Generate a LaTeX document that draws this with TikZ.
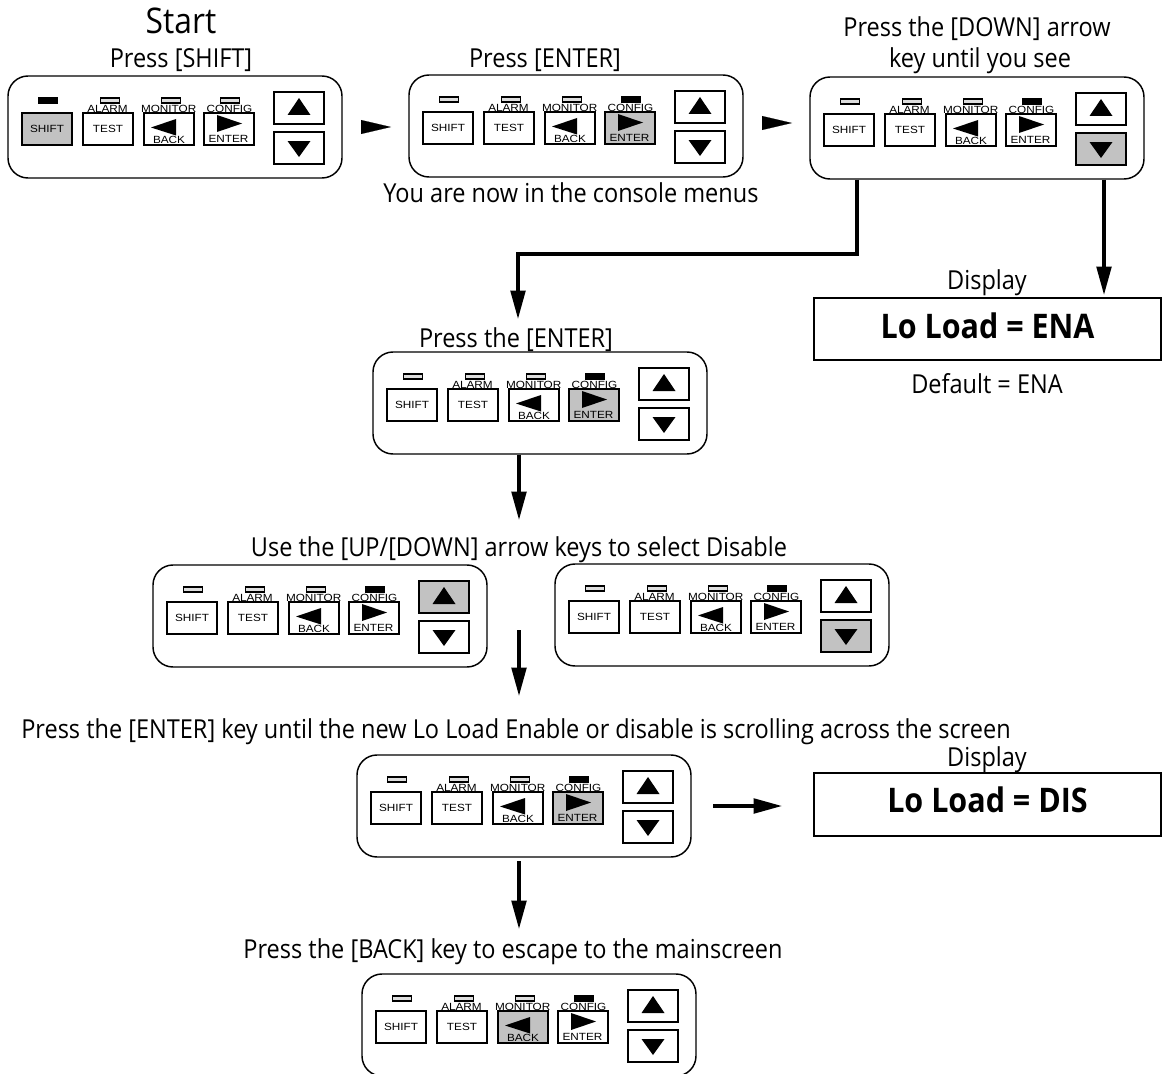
\documentclass[tikz,border=0pt]{standalone}
\usepackage{fontspec}
\setmainfont{Open Sans}[FakeStretch=0.9]
\newfontfamily\keyfont{Liberation Sans}[FakeStretch=1.13]
\usetikzlibrary{arrows.meta}
\definecolor{keygray}{HTML}{C2C2C2}
\definecolor{ledoff}{HTML}{DEDEDE}
\tikzset{
  x=0.75pt,y=-0.75pt,
  panelbox/.style={draw,line width=1.1pt,rounded corners=15pt,minimum width=250.5pt,minimum height=76.5pt,inner sep=0pt},
  keybox/.style={draw,line width=1.3pt,minimum width=37.5pt,minimum height=24pt,inner sep=0pt,font=\keyfont\fontsize{7.8}{8}\selectfont},
  arrowbox/.style={draw,line width=1.3pt,minimum width=37.5pt,minimum height=24pt,inner sep=0pt},
  ledbox/.style={draw,line width=1.1pt,minimum width=14pt,minimum height=4pt,inner sep=0pt},
  keytext/.style={inner sep=0pt,font=\keyfont\fontsize{7.8}{8}\selectfont},
  caption/.style={inner sep=0pt,anchor=base,font=\fontsize{19.6}{22}\selectfont},
  displaybox/.style={draw,line width=1.1pt,minimum width=260pt,inner sep=0pt},
  displaytext/.style={inner sep=0pt,anchor=base,font=\bfseries\fontsize{25.4}{27}\selectfont},
  flow/.style={line width=3.7pt,-{Triangle[length=22pt,width=10.5pt]}},
  headonly/.style={line width=0.1pt,-{Triangle[length=22.5pt,width=10.5pt]}},
}
% id, left x, top y, pressed key (s,b,e,u,d)
\newcommand{\panelunit}[4]{%
  \edef\fS{\if s#4keygray\else white\fi}%
  \edef\fB{\if b#4keygray\else white\fi}%
  \edef\fE{\if e#4keygray\else white\fi}%
  \edef\fU{\if u#4keygray\else white\fi}%
  \edef\fD{\if d#4keygray\else white\fi}%
  \edef\lS{\if s#4black\else ledoff\fi}%
  \edef\lC{\if s#4ledoff\else black\fi}%
  \begin{scope}[shift={(#2,#3)}]
    \node[panelbox] (#1) at (167,51) {};
    \node[ledbox,fill=\lS] (#1ls) at (40,24.5) {};
    \node[ledbox,fill=ledoff] (#1la) at (102,24.5) {};
    \node[ledbox,fill=ledoff] (#1lm) at (163,24.5) {};
    \node[ledbox,fill=\lC] (#1lc) at (222,24.5) {};
    \node[keytext] (#1ta) at (99.5,33) {ALARM};
    \node[keytext] (#1tm) at (160.7,33) {MONITOR};
    \node[keytext] (#1tc) at (221.5,33) {CONFIG};
    \node[keybox,fill=\fS] (#1ks) at (39,53) {SHIFT};
    \node[keybox,fill=white] (#1kt) at (100,53) {TEST};
    \node[keybox,fill=\fB] (#1kb) at (161,53) {};
    \node[keybox,fill=\fE] (#1ke) at (221,53) {};
    \node[arrowbox,fill=\fU] (#1ku) at (291,32) {};
    \node[arrowbox,fill=\fD] (#1kd) at (291,72) {};
    \node[keytext] (#1tb) at (161,63.5) {BACK};
    \node[keytext] (#1te) at (220.5,63) {ENTER};
    \fill (143,51.5) -- (168,43) -- (168,59.5) -- cycle;
    \fill (234,47.5) -- (209,39) -- (209,56) -- cycle;
    \fill (291,22) -- (302.5,39) -- (279.5,39) -- cycle;
    \fill (291,81) -- (302.5,65) -- (279.5,65) -- cycle;
  \end{scope}%
}
\begin{document}
\begin{tikzpicture}
\useasboundingbox (0,0) rectangle (1168,1074);
\panelunit{p1}{8}{76}{s}
\panelunit{p2}{409}{75}{e}
\panelunit{p3}{810}{77}{d}
\panelunit{p4}{373}{352}{e}
\panelunit{p5}{153}{565}{u}
\panelunit{p6}{555}{564}{d}
\panelunit{p7}{357}{755}{e}
\panelunit{p8}{362}{974}{b}

\node[caption,font=\fontsize{26.5}{28}\selectfont] (start) at (181,34) {Start};
\node[caption] (c1) at (181,68) {Press [SHIFT]};
\node[caption] (c2) at (545,68) {Press [ENTER]};
\node[caption] (c3a) at (977,37) {Press the [DOWN] arrow};
\node[caption] (c3b) at (980,68) {key until you see};
\node[caption] (c2b) at (571,202) {You are now in the console menus};
\node[caption] (d1t) at (987,289) {Display};
\node[displaybox,minimum height=46.5pt] (d1) at (987.5,329) {};
\node[displaytext] (d1v) at (987.5,338) {Lo Load = ENA};
\node[caption] (d1b) at (987,393) {Default = ENA};
\node[caption] (c4) at (516,347) {Press the [ENTER]};
\node[caption] (c5) at (519,556) {Use the [UP/[DOWN] arrow keys to select Disable};
\node[caption] (c7) at (516,738) {Press the [ENTER] key until the new Lo Load Enable or disable is scrolling across the screen};
\node[caption] (d2t) at (987,766) {Display};
\node[displaybox,minimum height=47pt] (d2) at (987.5,804.5) {};
\node[displaytext] (d2v) at (987.5,812) {Lo Load = DIS};
\node[caption] (c8) at (513,958) {Press the [BACK] key to escape to the mainscreen};

\coordinate (a1s) at (361,127); \coordinate (a1t) at (391,127);
\coordinate (a2s) at (762,123); \coordinate (a2t) at (792,123);
\draw[headonly] (a1s) -- (a1t);
\draw[headonly] (a2s) -- (a2t);
\coordinate (b1) at (857,254); \coordinate (b2) at (518,254); \coordinate (b3) at (518,320);
\draw[flow,line join=miter] (p3.south -| b1) -- (b1) -- (b2) -- (b3);
\coordinate (b4) at (1104,296);
\draw[flow] (p3.south -| b4) -- (b4);
\coordinate (b5) at (519,521);
\draw[flow] (p4.south -| b5) -- (b5);
\coordinate (b6s) at (519,630); \coordinate (b6t) at (519,697);
\draw[flow] (b6s) -- (b6t);
\coordinate (b7s) at (713,806);
\draw[flow] (b7s) -- (783,806);
\coordinate (b8s) at (519,861); \coordinate (b8t) at (519,930);
\draw[flow] (b8s) -- (b8t);
\end{tikzpicture}
\end{document}
